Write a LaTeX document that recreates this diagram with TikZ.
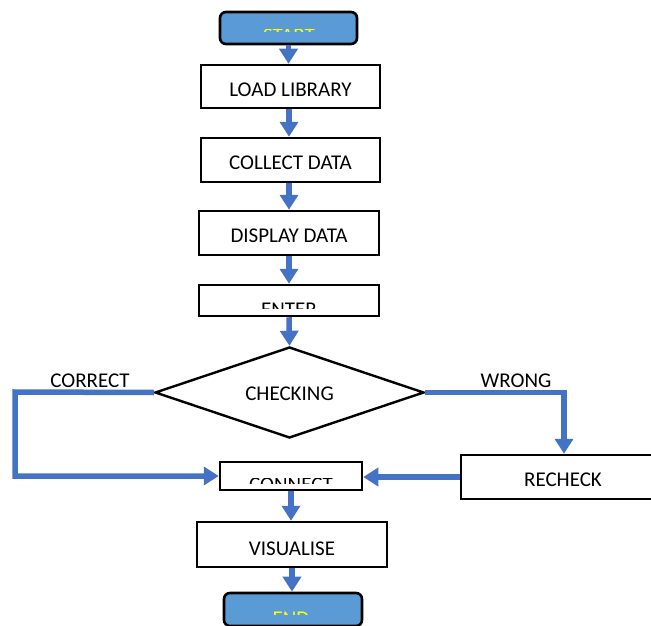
\documentclass[tikz,border=0pt]{standalone}
\usepackage{fontspec}
\setmainfont{Carlito}
\usetikzlibrary{arrows.meta,shapes.geometric}
\definecolor{termblue}{HTML}{5B9BD5}
\definecolor{flowblue}{HTML}{4472C4}
\definecolor{termtext}{HTML}{FFFF00}
\tikzset{
  box/.style={draw=black, line width=2.5pt, fill=white, inner sep=0pt},
  term/.style={draw=black, line width=2.6pt, fill=termblue, rounded corners=6pt, inner sep=0pt},
  decision/.style={diamond, draw=black, line width=2.4pt, fill=white, inner sep=0pt},
  flow/.style={draw=flowblue, line width=5.5pt, -{Triangle[width=18pt,length=15pt]}},
  lbl/.style={font=\fontsize{21}{25}\selectfont, inner sep=0pt},
  cut/.style={font=\fontsize{21}{25}\selectfont, inner sep=0pt, anchor=base}
}
\begin{document}
\begin{tikzpicture}[x=1pt, y=-1pt]
\useasboundingbox (0,0) rectangle (651,626);

% terminals
\node[term, minimum width=137pt, minimum height=32pt] (start) at (288.5,28) {};
\node[term, minimum width=138pt, minimum height=33pt] (end) at (293,609.5) {};

% process boxes
\node[box, minimum width=179pt, minimum height=43pt] (load) at (290.5,86.5) {};
\node[box, minimum width=179pt, minimum height=44pt] (collect) at (290.5,160) {};
\node[box, minimum width=180pt, minimum height=44pt] (display) at (289,233) {};
\node[box, minimum width=180pt, minimum height=31pt] (enter) at (289,300.5) {};
\node[decision, minimum width=269pt, minimum height=91pt] (chk) at (289.5,392.5) {};
\node[box, minimum width=142pt, minimum height=28pt] (conn) at (291,476) {};
\node[box, minimum width=206pt, minimum height=44pt] (recheck) at (564,477) {};
\node[box, minimum width=190pt, minimum height=45pt] (vis) at (292,544.5) {};

% box captions, set a little below the box centres
\node[lbl] at ([yshift=-3pt]load.center) {LOAD LIBRARY};
\node[lbl] at ([yshift=-3pt]collect.center) {COLLECT DATA};
\node[lbl] at ([yshift=-3pt]display.center) {DISPLAY DATA};
\node[lbl] at ([yshift=-1.5pt]chk.center) {CHECKING};
\node[lbl] at (563,479.5) {RECHECK};
\node[lbl] at ([yshift=-4pt]vis.center) {VISUALISE};

% captions whose lower part is hidden by their text frames
\begin{scope}
  \clip (200,29.5) rectangle (380,31.5);
  \node[cut, text=termtext] at (289,43) {START};
\end{scope}
\begin{scope}
  \clip (200,302.5) rectangle (380,308.4);
  \node[cut] at (289,316) {ENTER};
\end{scope}
\begin{scope}
  \clip (200,478) rectangle (380,483.2);
  \node[cut] at (291,491.5) {CONNECT};
\end{scope}
\begin{scope}
  \clip (200,611.8) rectangle (380,614.4);
  \node[cut, text=termtext] at (291,625) {END};
\end{scope}

% branch labels
\node[lbl] (lc) at (90,381) {CORRECT};
\node[lbl] (lw) at (516,381) {WRONG};

% connectors
\draw[flow] (start.south) -- (start.south |- load.north);
\draw[flow] (load.south -| 289,0) -- (collect.north -| 289,0);
\draw[flow] (collect.south -| 289,0) -- (display.north -| 289,0);
\draw[flow] (display.south) -- (enter.north);
\draw[flow] (enter.south) -- (chk.north);
\coordinate (lturn) at (15,392);
\draw[flow] (chk.west) -- (lturn) |- (conn.west);
\draw[flow] (chk.east) -| (recheck.north);
\draw[flow] (recheck.west) -- (recheck.west -| conn.east);
\draw[flow] (conn.south) -- (conn.south |- vis.north);
\draw[flow] (vis.south) -- (vis.south |- end.north);
\end{tikzpicture}
\end{document}
